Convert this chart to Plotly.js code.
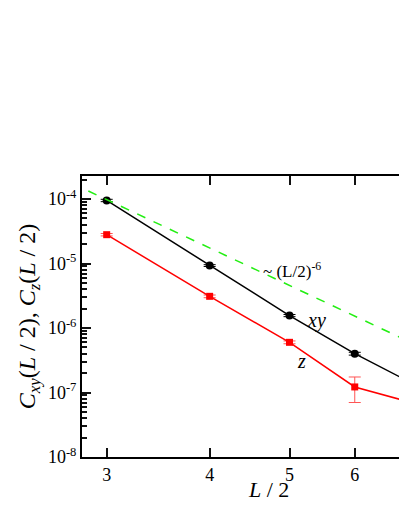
<!DOCTYPE html>
<html>
<head>
<meta charset="utf-8">
<script src="https://cdn.plot.ly/plotly-3.0.1.min.js"></script>
<style>
  html, body { margin: 0; padding: 0; overflow: hidden; background: #fff; }
  #chart { width: 440px; height: 516px; }
</style>
</head>
<body>
<div id="chart"></div>
<script>
// half system size L/2
var halfL = [3, 4, 5, 6, 7];

// C_xy(L/2) with error bars
var cxy = [9.5e-5, 9.3e-6, 1.56e-6, 4.0e-7, 1.45e-7];
var cxyErr = [4e-6, 3e-7, 6e-8, 2e-8, 1e-8];

// C_z(L/2) with error bars
var cz = [2.8e-5, 3.1e-6, 6.0e-7, 1.22e-7, 7.1e-8];
var czErr = [1.2e-6, 1.5e-7, 3e-8, 5.2e-8, 5e-9];

// guide line ~ (L/2)^-6
var guideL = [2.85, 7.5];
var guideAmp = 0.0714;
var guideY = guideL.map(function (l) { return guideAmp * Math.pow(l, -6); });

var xTickVals = [3, 4, 5, 6];
var yTickVals = [1e-8, 1e-7, 1e-6, 1e-5, 1e-4];
var yTickText = ["10<sup>-8</sup>", "10<sup>-7</sup>", "10<sup>-6</sup>", "10<sup>-5</sup>", "10<sup>-4</sup>"];

// minor ticks 2..9 in each decade
var yMinorVals = [];
[-8, -7, -6, -5, -4].forEach(function (e) {
    for (var k = 2; k <= 9; k++) yMinorVals.push(k * Math.pow(10, e));
});

var serif = "Liberation Serif";
var yRange = [-8, -3.643];

var W = 440, H = 516;
var M = { l: 82, r: 20, t: 176, b: 59 };
var plotW = W - M.l - M.r;
var plotH = H - M.t - M.b;

var guide = {
    x: guideL,
    y: guideY,
    yaxis: "y2",
    mode: "lines",
    line: { color: "#22ee11", width: 1.5, dash: "dash" },
    hoverinfo: "skip"
};

var traceXY = {
    x: halfL,
    y: cxy,
    mode: "lines+markers",
    line: { color: "black", width: 1.5 },
    marker: { color: "black", symbol: "circle", size: 8 },
    error_y: { type: "data", array: cxyErr, color: "black", thickness: 1, width: 6 }
};

var traceZ = {
    x: halfL,
    y: cz,
    mode: "lines+markers",
    line: { color: "red", width: 1.5 },
    marker: { color: "red", symbol: "square", size: 7 },
    error_y: { type: "data", array: czErr, color: "#ff5555", thickness: 1, width: 6 }
};

var layout = {
    width: W,
    height: H,
    margin: M,
    paper_bgcolor: "white",
    plot_bgcolor: "white",
    showlegend: false,
    font: { family: serif, color: "black", size: 16 },
    xaxis: {
        type: "log",
        range: [Math.log10(2.8), Math.log10(7.2)],
        tickvals: xTickVals,
        ticktext: xTickVals.map(String),
        ticks: "inside",
        ticklen: 9,
        tickwidth: 2,
        tickcolor: "#111",
        showline: true,
        linecolor: "black",
        linewidth: 2,
        mirror: "ticks",
        showgrid: false,
        zeroline: false,
        tickfont: { family: serif, size: 18 }
    },
    yaxis: {
        type: "log",
        range: yRange,
        tickvals: yTickVals,
        ticktext: yTickText,
        ticks: "inside",
        ticklen: 9,
        tickwidth: 2,
        tickcolor: "#111",
        showline: true,
        linecolor: "black",
        linewidth: 2,
        mirror: "ticks",
        showgrid: false,
        zeroline: false,
        tickfont: { family: serif, size: 18 },
        title: {
            text: "<i>C</i><sub><i>xy</i></sub>(<i>L</i> / 2), <i>C</i><sub><i>z</i></sub>(<i>L</i> / 2)",
            font: { family: serif, size: 24 },
            standoff: 6
        }
    },
    yaxis2: {
        type: "log",
        range: yRange,
        overlaying: "y",
        side: "left",
        anchor: "x",
        tickvals: yMinorVals,
        showticklabels: false,
        ticks: "inside",
        ticklen: 5,
        tickwidth: 2,
        tickcolor: "#111",
        showgrid: false,
        zeroline: false
    },
    annotations: [
        {
            x: Math.log10(5.04), y: -5.10, xref: "x", yref: "y",
            text: "~ (L/2)<sup>-6</sup>", showarrow: false,
            font: { family: serif, size: 17, color: "black" }
        },
        {
            x: Math.log10(5.39), y: -5.876, xref: "x", yref: "y",
            text: "<i>xy</i>", showarrow: false,
            font: { family: serif, size: 20, color: "black" }
        },
        {
            x: Math.log10(5.17), y: -6.51, xref: "x", yref: "y",
            text: "<i>z</i>", showarrow: false,
            font: { family: serif, size: 20, color: "black" }
        },
        {
            // x title sits near pixel (268, 489)
            x: (268 - M.l) / plotW, y: (H - M.b - 489) / plotH, xref: "paper", yref: "paper",
            xanchor: "center", yanchor: "middle",
            text: "<i>L</i> / 2", showarrow: false,
            font: { family: serif, size: 22, color: "black" }
        }
    ]
};

Plotly.newPlot("chart", [guide, traceXY, traceZ], layout, { displayModeBar: false });
</script>
</body>
</html>
